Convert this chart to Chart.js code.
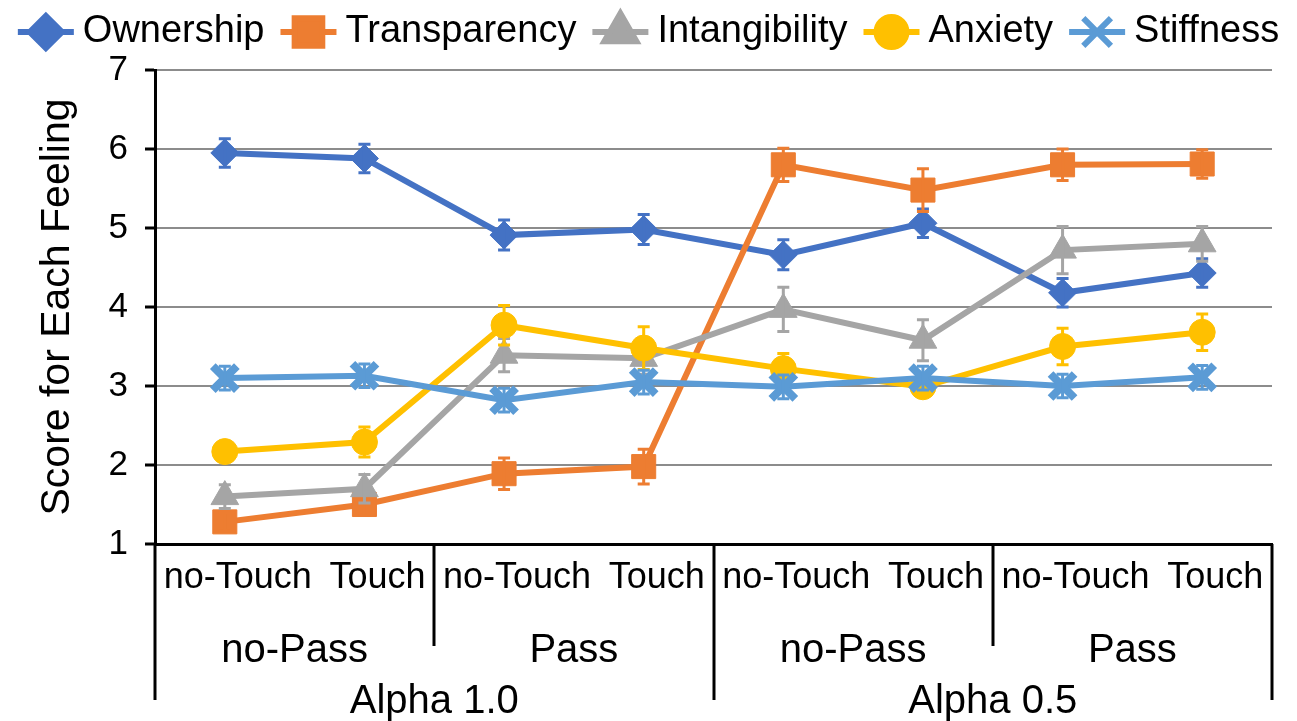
<!DOCTYPE html>
<html>
<head>
<meta charset="utf-8">
<script src="https://cdn.jsdelivr.net/npm/chart.js@4.4.1/dist/chart.umd.min.js"></script>
<style>
  html, body { margin: 0; padding: 0; background: #fff; }
  #wrap { width: 1297px; height: 721px; }
</style>
</head>
<body>
<div id="wrap"><canvas id="chart"></canvas></div>
<script>
// categories (three header rows under the axis)
var touchLabels = ['no-Touch', 'Touch', 'no-Touch', 'Touch', 'no-Touch', 'Touch', 'no-Touch', 'Touch'];
var passLabels = ['no-Pass', 'Pass', 'no-Pass', 'Pass'];
var alphaLabels = ['Alpha 1.0', 'Alpha 0.5'];
var yTicks = [1, 2, 3, 4, 5, 6, 7];

// mean scores and error bar half-lengths
var ownership = [5.95, 5.88, 4.91, 4.98, 4.66, 5.06, 4.18, 4.43];
var ownershipErr = [0.18, 0.18, 0.19, 0.19, 0.19, 0.18, 0.18, 0.18];
var transparency = [1.28, 1.50, 1.89, 1.98, 5.80, 5.48, 5.80, 5.81];
var transparencyErr = [0.12, 0.14, 0.20, 0.22, 0.21, 0.27, 0.20, 0.18];
var intangibility = [1.60, 1.70, 3.39, 3.35, 3.97, 3.58, 4.72, 4.80];
var intangibilityErr = [0.15, 0.18, 0.21, 0.20, 0.28, 0.26, 0.30, 0.22];
var anxiety = [2.17, 2.29, 3.77, 3.48, 3.22, 2.99, 3.50, 3.68];
var anxietyErr = [0.10, 0.19, 0.25, 0.27, 0.19, 0.10, 0.23, 0.23];
var stiffness = [3.10, 3.13, 2.82, 3.05, 2.99, 3.10, 3.00, 3.11];
var stiffnessErr = [0.15, 0.15, 0.15, 0.15, 0.15, 0.15, 0.15, 0.15];

var FONT = "'Liberation Sans', Arial, Helvetica, sans-serif";

function series(label, data, err, color, style, radius, order) {
  return {
    label: label,
    data: data,
    err: err,
    borderColor: color,
    backgroundColor: color,
    borderWidth: 6,
    tension: 0,
    pointStyle: style,
    pointRadius: radius,
    pointBackgroundColor: color,
    pointBorderColor: color,
    pointBorderWidth: style === 'crossRot' ? 8 : 1,
    order: order
  };
}

var datasets = [
  series('Ownership', ownership, ownershipErr, '#4472C4', 'rectRot', 14, 5),
  series('Transparency', transparency, transparencyErr, '#ED7D31', 'rect', 17, 4),
  series('Intangibility', intangibility, intangibilityErr, '#A5A5A5', 'triangle', 16, 3),
  series('Anxiety', anxiety, anxietyErr, '#FFC000', 'circle', 13, 2),
  series('Stiffness', stiffness, stiffnessErr, '#5B9BD5', 'crossRot', 17, 1)
];

// vertical error bars with caps, drawn right after each line
var errorBars = {
  id: 'errorBars',
  afterDatasetDraw: function (chart, args) {
    var ds = chart.data.datasets[args.index];
    var y = chart.scales.y;
    var ctx = chart.ctx;
    ctx.save();
    ctx.strokeStyle = ds.borderColor;
    ctx.lineWidth = 3;
    args.meta.data.forEach(function (pt, i) {
      var top = y.getPixelForValue(ds.data[i] + ds.err[i]);
      var bot = y.getPixelForValue(ds.data[i] - ds.err[i]);
      ctx.beginPath();
      ctx.moveTo(pt.x, top); ctx.lineTo(pt.x, bot);
      ctx.moveTo(pt.x - 6, top); ctx.lineTo(pt.x + 6, top);
      ctx.moveTo(pt.x - 6, bot); ctx.lineTo(pt.x + 6, bot);
      ctx.stroke();
    });
    ctx.restore();
  }
};

// three-level category header below the x axis
var groupAxis = {
  id: 'groupAxis',
  afterDraw: function (chart) {
    var ctx = chart.ctx;
    var x = chart.scales.x;
    var base = chart.chartArea.bottom;
    var n = touchLabels.length;
    function edge(i) {
      if (i === 0) return x.left;
      if (i === n) return x.right;
      return (x.getPixelForValue(i - 1) + x.getPixelForValue(i)) / 2;
    }
    ctx.save();
    ctx.fillStyle = '#000';
    ctx.textAlign = 'center';
    ctx.textBaseline = 'middle';

    ctx.font = '36px ' + FONT;
    touchLabels.forEach(function (t, i) {
      ctx.fillText(t, x.getPixelForValue(i) + 13, 578);
    });
    ctx.font = '40px ' + FONT;
    passLabels.forEach(function (t, i) {
      ctx.fillText(t, (edge(i * 2) + edge(i * 2 + 2)) / 2, 651);
    });
    alphaLabels.forEach(function (t, i) {
      ctx.fillText(t, (edge(i * 4) + edge(i * 4 + 4)) / 2, 702);
    });

    ctx.strokeStyle = '#000';
    ctx.lineWidth = 3;
    for (var i = 0; i <= n; i += 2) {
      var xx = Math.round(edge(i));
      ctx.beginPath();
      ctx.moveTo(xx, base);
      ctx.lineTo(xx, i % 4 === 0 ? 700 : 646);
      ctx.stroke();
    }
    ctx.restore();
  }
};

// legend row: short line with the series marker, then the name
var lineLegend = {
  id: 'lineLegend',
  afterDraw: function (chart) {
    var ctx = chart.ctx;
    var iconW = 56, gapText = 9, gapItem = 16, cy = 32;
    ctx.save();
    ctx.font = '38px ' + FONT;
    ctx.textBaseline = 'middle';
    ctx.textAlign = 'left';
    var total = 0;
    chart.data.datasets.forEach(function (ds, i) {
      total += iconW + gapText + ctx.measureText(ds.label).width;
      if (i > 0) total += gapItem;
    });
    var cx = (chart.width - total) / 2;
    chart.data.datasets.forEach(function (ds) {
      ctx.strokeStyle = ds.borderColor;
      ctx.fillStyle = ds.borderColor;
      ctx.lineWidth = 6;
      ctx.beginPath();
      ctx.moveTo(cx, cy);
      ctx.lineTo(cx + iconW, cy);
      ctx.stroke();
      Chart.helpers.drawPoint(ctx, {
        pointStyle: ds.pointStyle,
        radius: ds.pointRadius * 1.15,
        rotation: 0,
        borderWidth: ds.pointStyle === 'crossRot' ? 8 : 1
      }, cx + iconW / 2, cy);
      ctx.fillStyle = '#000';
      ctx.fillText(ds.label, cx + iconW + gapText, cy);
      cx += iconW + gapText + ctx.measureText(ds.label).width + gapItem;
    });
    ctx.restore();
  }
};

new Chart(document.getElementById('chart'), {
  type: 'line',
  data: { labels: touchLabels, datasets: datasets },
  options: {
    responsive: true,
    maintainAspectRatio: false,
    animation: false,
    layout: { padding: { left: 0, right: 15, top: 70, bottom: 0 } },
    plugins: { legend: { display: false }, tooltip: { enabled: false } },
    scales: {
      x: {
        offset: true,
        ticks: { display: false },
        grid: { display: false, drawTicks: false },
        border: { color: '#000', width: 3 },
        afterFit: function (s) { s.height = 177; }
      },
      y: {
        min: 1,
        max: 7,
        afterBuildTicks: function (s) { s.ticks = yTicks.map(function (v) { return { value: v }; }); },
        ticks: { color: '#000', font: { size: 35, family: FONT }, padding: 17 },
        grid: { color: '#8c8c8c', lineWidth: 2, tickColor: '#000', tickLength: 10, tickWidth: 3 },
        border: { color: '#000', width: 3 },
        title: {
          display: true,
          text: 'Score for Each Feeling',
          color: '#000',
          font: { size: 41, family: FONT },
          padding: { top: 33, bottom: 0 }
        },
        afterFit: function (s) { s.width = 155; }
      }
    }
  },
  plugins: [errorBars, groupAxis, lineLegend]
});
</script>
</body>
</html>
